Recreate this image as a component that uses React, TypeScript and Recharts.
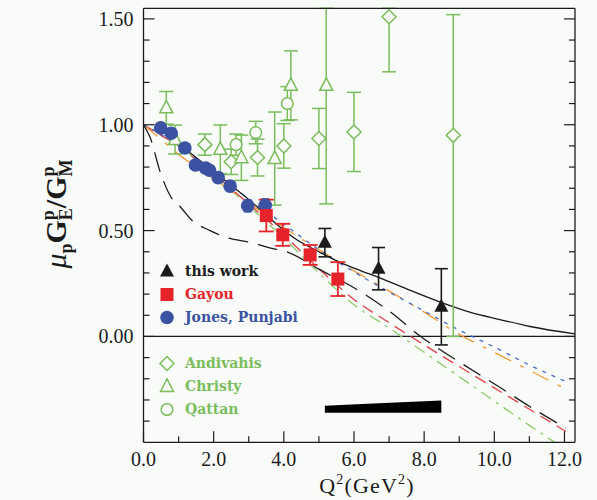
import { Area, ComposedChart, ErrorBar, Legend, Line, ReferenceLine, Scatter, XAxis, YAxis } from 'recharts';

const INK = '#1b1b1b';
const PAPER = '#f9fbf8';
const GREEN = '#79bd5d';
const RED = '#e6232b';
const BLUE = '#3b52a3';

// this work: black triangles, statistical errors
const thisWorkQ2 = [5.17, 6.7, 8.49];
const thisWorkRatio = [0.443, 0.32, 0.14];
const thisWorkErr = [0.067, 0.1, 0.18];

// systematic error band of this work
const sysBandQ2 = [5.17, 6.7, 8.49];
const sysBandLow = [-0.36, -0.36, -0.36];
const sysBandHigh = [-0.327, -0.315, -0.302];

const gayouQ2 = [3.5, 3.97, 4.75, 5.54];
const gayouRatio = [0.571, 0.48, 0.385, 0.271];
const gayouErr = [0.075, 0.052, 0.047, 0.08];

const jonesQ2 = [0.49, 0.79, 1.18, 1.48, 1.77, 1.88, 2.13, 2.47, 2.97, 3.47];
const jonesRatio = [0.985, 0.96, 0.89, 0.81, 0.795, 0.785, 0.75, 0.71, 0.617, 0.62];
const jonesErr = [0.012, 0.012, 0.015, 0.02, 0.02, 0.02, 0.022, 0.025, 0.028, 0.03];

// Rosenbluth results (open green symbols), errors as [low, high]
const andivahisQ2 = [1.75, 2.5, 3.25, 4.0, 5.0, 6.0, 7.0, 8.83];
const andivahisRatio = [0.906, 0.825, 0.845, 0.9, 0.935, 0.966, 1.51, 0.95];
const andivahisLow = [0.05, 0.06, 0.087, 0.105, 0.142, 0.187, 0.26, 0.95];
const andivahisHigh = [0.05, 0.06, 0.087, 0.105, 0.142, 0.187, 0.04, 0.57];

const christyQ2 = [0.65, 0.9, 2.19, 2.79, 3.74, 4.2, 5.21];
const christyRatio = [1.08, 0.93, 0.884, 0.844, 0.84, 1.186, 1.186];
const christyLow = [0.077, 0.068, 0.115, 0.107, 0.22, 0.163, 0.56];
const christyHigh = [0.077, 0.068, 0.115, 0.107, 0.22, 0.163, 0.364];

const qattanQ2 = [2.64, 3.2, 4.1];
const qattanRatio = [0.906, 0.963, 1.1];
const qattanErr = [0.05, 0.053, 0.08];

// model curves
const modelQ2 = [0, 0.5, 1, 1.5, 2, 3, 4, 5, 6, 7, 8, 9, 10, 11, 12.04];
const blueModel = [1.0, 0.955, 0.9, 0.84, 0.775, 0.65, 0.53, 0.41, 0.305, 0.21, 0.12, 0.03, -0.05, -0.135, -0.213];
const orangeModel = [1.0, 0.93, 0.86, 0.8, 0.745, 0.63, 0.515, 0.41, 0.31, 0.215, 0.115, 0.01, -0.075, -0.16, -0.249];
const redModel = [1.0, 0.95, 0.9, 0.835, 0.77, 0.625, 0.48, 0.32, 0.175, 0.065, -0.04, -0.142, -0.243, -0.344, -0.449];
const greenModel = [1.0, 0.95, 0.9, 0.835, 0.765, 0.615, 0.465, 0.3, 0.15, 0.04, -0.075, -0.19, -0.305, -0.42, -0.535];

const solidFitQ2 = [0.42, 1.5, 2.94, 4.37, 5.0, 5.6, 6.2, 6.72, 7.5, 8.5, 9.3, 10.16, 11.02, 12.3];
const solidFit = [0.985, 0.845, 0.655, 0.457, 0.4, 0.35, 0.31, 0.278, 0.225, 0.16, 0.115, 0.08, 0.047, 0.012];

const dashedFitQ2 = [0, 0.19, 0.47, 0.8, 1.04, 1.37, 1.9, 2.27, 3.13, 3.6, 4.08, 5.0, 6.17, 7.0, 7.9, 9.0, 10.2, 11.0, 12.04];
const dashedFit = [1.0, 0.94, 0.78, 0.654, 0.614, 0.55, 0.5, 0.473, 0.441, 0.418, 0.4, 0.318, 0.213, 0.12, 0.0, -0.12, -0.245, -0.33, -0.433];

const xTicks = [0, 1, 2, 3, 4, 5, 6, 7, 8, 9, 10, 11, 12];
const yTicks = [-0.4, -0.3, -0.2, -0.1, 0, 0.1, 0.2, 0.3, 0.4, 0.5, 0.6, 0.7, 0.8, 0.9, 1.0, 1.1, 1.2, 1.3, 1.4, 1.5];

const points = (q2: number[], ratio: number[], err: number[]) =>
  q2.map((x, i) => ({ x, y: ratio[i], e: err[i] }));
const asymPoints = (q2: number[], ratio: number[], low: number[], high: number[]) =>
  q2.map((x, i) => ({ x, y: ratio[i], e: [low[i], high[i]] }));
const curve = (q2: number[], ratio: number[]) => q2.map((x, i) => ({ x, y: ratio[i] }));

const thisWork = points(thisWorkQ2, thisWorkRatio, thisWorkErr);
const gayou = points(gayouQ2, gayouRatio, gayouErr);
const jones = points(jonesQ2, jonesRatio, jonesErr);
const andivahis = asymPoints(andivahisQ2, andivahisRatio, andivahisLow, andivahisHigh);
const christy = asymPoints(christyQ2, christyRatio, christyLow, christyHigh);
const qattan = points(qattanQ2, qattanRatio, qattanErr);
const sysBand = sysBandQ2.map((x, i) => ({ x, band: [sysBandLow[i], sysBandHigh[i]] }));

const SERIF = "'Liberation Serif', 'Times New Roman', serif";
const LEGEND_FONT = "'DejaVu Serif', serif";

type MarkKind = 'tri' | 'square' | 'circle' | 'diamond' | 'openTri' | 'openCircle';

const markPath = (kind: MarkKind, cx: number, cy: number, color: string) => {
  switch (kind) {
    case 'tri':
      return <polygon points={`${cx},${cy - 8} ${cx - 7},${cy + 5} ${cx + 7},${cy + 5}`} fill={INK} />;
    case 'square':
      return <rect x={cx - 6.5} y={cy - 6.5} width={13} height={13} fill={color} />;
    case 'circle':
      return <circle cx={cx} cy={cy} r={6.8} fill={color} />;
    case 'diamond':
      return (
        <polygon
          points={`${cx},${cy - 7} ${cx + 7},${cy} ${cx},${cy + 7} ${cx - 7},${cy}`}
          fill={PAPER}
          stroke={color}
          strokeWidth={1.5}
        />
      );
    case 'openTri':
      return (
        <polygon
          points={`${cx},${cy - 7.5} ${cx - 6.5},${cy + 5} ${cx + 6.5},${cy + 5}`}
          fill={PAPER}
          stroke={color}
          strokeWidth={1.5}
        />
      );
    default:
      return <circle cx={cx} cy={cy} r={5.8} fill={PAPER} stroke={color} strokeWidth={1.5} />;
  }
};

const shape = (kind: MarkKind, color: string) => (props: any) => markPath(kind, props.cx, props.cy, color);

type TickProps = { x?: number; y?: number; payload?: { value: number } };

const majorQ2 = (v: number) => Math.round(v) % 2 === 0;
const majorRatio = (v: number) => Math.round(v * 10) % 5 === 0;

const BottomTick = ({ x = 0, y = 0, payload }: TickProps) => {
  const v = payload?.value ?? 0;
  const major = majorQ2(v);
  return (
    <g>
      <line x1={x} x2={x} y1={y} y2={y - (major ? 11 : 6)} stroke={INK} strokeWidth={1.2} />
      {major && (
        <text x={x} y={y + 24} textAnchor="middle" fontFamily={SERIF} fontSize={20} fill={INK}>
          {v.toFixed(1)}
        </text>
      )}
    </g>
  );
};

const TopTick = ({ x = 0, y = 0, payload }: TickProps) => {
  const major = majorQ2(payload?.value ?? 0);
  return <line x1={x} x2={x} y1={y} y2={y + (major ? 11 : 6)} stroke={INK} strokeWidth={1.2} />;
};

const LeftTick = ({ x = 0, y = 0, payload }: TickProps) => {
  const v = payload?.value ?? 0;
  const major = majorRatio(v);
  return (
    <g>
      <line x1={x} x2={x + (major ? 11 : 6)} y1={y} y2={y} stroke={INK} strokeWidth={1.2} />
      {major && v >= 0 && (
        <text x={x - 10} y={y + 7} textAnchor="end" fontFamily={SERIF} fontSize={20} fill={INK}>
          {v.toFixed(2)}
        </text>
      )}
    </g>
  );
};

const RightTick = ({ x = 0, y = 0, payload }: TickProps) => {
  const major = majorRatio(payload?.value ?? 0);
  return <line x1={x} x2={x - (major ? 11 : 6)} y1={y} y2={y} stroke={INK} strokeWidth={1.2} />;
};

const YTitle = () => (
  <text transform="translate(66,214) rotate(-90)" textAnchor="middle" fontFamily={SERIF} fontSize={30} fill={INK}>
    <tspan fontStyle="italic">μ</tspan>
    <tspan fontSize={18} dy={6} fontWeight="bold">p</tspan>
    <tspan dy={-6} fontWeight="bold">G</tspan>
    <tspan fontSize={18} dy={-12} fontWeight="bold">p</tspan>
    <tspan fontSize={18} dx={-10} dy={18} fontWeight="bold">E</tspan>
    <tspan dy={-6} fontWeight="bold">/G</tspan>
    <tspan fontSize={18} dy={-12} fontWeight="bold">p</tspan>
    <tspan fontSize={18} dx={-10} dy={18} fontWeight="bold">M</tspan>
  </text>
);

const XTitle = () => (
  <text x={367} y={493} textAnchor="middle" fontFamily={SERIF} fontSize={22} letterSpacing={1.2} fill={INK}>
    Q<tspan fontSize={14} dy={-9}>2</tspan>
    <tspan dy={9}>(GeV</tspan>
    <tspan fontSize={14} dy={-9}>2</tspan>
    <tspan dy={9}>)</tspan>
  </text>
);

const legendRows: Array<{ label: string; kind: MarkKind; color: string; top: number }> = [
  { label: 'this work', kind: 'tri', color: INK, top: 270.7 },
  { label: 'Gayou', kind: 'square', color: RED, top: 294 },
  { label: 'Jones, Punjabi', kind: 'circle', color: BLUE, top: 317.3 },
  { label: 'Andivahis', kind: 'diamond', color: GREEN, top: 362.7 },
  { label: 'Christy', kind: 'openTri', color: GREEN, top: 385.7 },
  { label: 'Qattan', kind: 'openCircle', color: GREEN, top: 409.3 },
];

const LEGEND_LEFT = 150;
const LEGEND_TOP = 255;

const renderLegend = () => (
  <div style={{ position: 'relative', width: 170, height: 170 }}>
    {legendRows.map((row) => (
      <div key={row.label}>
        <svg
          width={18}
          height={18}
          style={{ position: 'absolute', left: 166.7 - 9 - LEGEND_LEFT, top: row.top - 9 - LEGEND_TOP }}
        >
          {markPath(row.kind, 9, 9.5, row.color)}
        </svg>
        <span
          style={{
            position: 'absolute',
            left: 185 - LEGEND_LEFT,
            top: row.top - 10 - LEGEND_TOP,
            lineHeight: '20px',
            whiteSpace: 'nowrap',
            fontFamily: LEGEND_FONT,
            fontWeight: 'bold',
            fontSize: 14,
            color: row.color,
          }}
        >
          {row.label}
        </span>
      </div>
    ))}
  </div>
);

const modelLine = (data: number[], color: string, dash: string, key: string) => (
  <Line
    key={key}
    data={curve(modelQ2, data)}
    dataKey="y"
    type="monotone"
    stroke={color}
    strokeWidth={1.3}
    strokeDasharray={dash}
    dot={false}
    activeDot={false}
    isAnimationActive={false}
  />
);

// axes are 1px thick so they still render; margins put the frame at x 143.5..575, y 8.3..442.3
const App = () => (
  <div style={{ position: 'absolute', left: 0, top: 0, width: 597, height: 500, background: PAPER }}>
    <ComposedChart width={597} height={500} margin={{ top: 7.3, right: 21, bottom: 56.7, left: 142.5 }}>
      <XAxis
        dataKey="x"
        type="number"
        domain={[0, 12.3]}
        allowDataOverflow
        ticks={xTicks}
        interval={0}
        height={1}
        tickSize={0}
        tickMargin={0}
        tickLine={false}
        tick={<BottomTick />}
        axisLine={{ stroke: INK, strokeWidth: 1.3 }}
        label={<XTitle />}
      />
      <XAxis
        xAxisId="top"
        orientation="top"
        type="number"
        domain={[0, 12.3]}
        allowDataOverflow
        ticks={xTicks}
        interval={0}
        height={1}
        tickSize={0}
        tickMargin={0}
        tickLine={false}
        tick={<TopTick />}
        axisLine={{ stroke: INK, strokeWidth: 1.3 }}
      />
      <YAxis
        dataKey="y"
        type="number"
        domain={[-0.5, 1.55]}
        allowDataOverflow
        ticks={yTicks}
        interval={0}
        width={1}
        tickSize={0}
        tickMargin={0}
        tickLine={false}
        tick={<LeftTick />}
        axisLine={{ stroke: INK, strokeWidth: 1.3 }}
        label={<YTitle />}
      />
      <YAxis
        yAxisId="right"
        orientation="right"
        type="number"
        domain={[-0.5, 1.55]}
        allowDataOverflow
        ticks={yTicks}
        interval={0}
        width={1}
        tickSize={0}
        tickMargin={0}
        tickLine={false}
        tick={<RightTick />}
        axisLine={{ stroke: INK, strokeWidth: 1.3 }}
      />
      <ReferenceLine y={0} stroke={INK} strokeWidth={1.3} />

      {modelLine(greenModel, '#8ccb6a', '12 6 3 6', 'green')}
      {modelLine(redModel, '#e0404a', '12 7', 'red')}
      {modelLine(orangeModel, '#f29a38', '18 10 4 10', 'orange')}
      {modelLine(blueModel, '#4767c8', '4 6', 'blue')}
      <Line
        data={curve(dashedFitQ2, dashedFit)}
        dataKey="y"
        type="monotone"
        stroke={INK}
        strokeWidth={1.3}
        strokeDasharray="20 10"
        dot={false}
        activeDot={false}
        isAnimationActive={false}
      />
      <Line
        data={curve(solidFitQ2, solidFit)}
        dataKey="y"
        type="monotone"
        stroke={INK}
        strokeWidth={1.3}
        dot={false}
        activeDot={false}
        isAnimationActive={false}
      />

      <Area
        data={sysBand}
        dataKey="band"
        type="linear"
        fill="#000"
        fillOpacity={1}
        stroke="none"
        isAnimationActive={false}
      />

      <Scatter data={andivahis} shape={shape('diamond', GREEN)} isAnimationActive={false}>
        <ErrorBar dataKey="e" direction="y" width={7} stroke={GREEN} strokeWidth={1.5} />
      </Scatter>
      <Scatter data={christy} shape={shape('openTri', GREEN)} isAnimationActive={false}>
        <ErrorBar dataKey="e" direction="y" width={7} stroke={GREEN} strokeWidth={1.5} />
      </Scatter>
      <Scatter data={qattan} shape={shape('openCircle', GREEN)} isAnimationActive={false}>
        <ErrorBar dataKey="e" direction="y" width={7} stroke={GREEN} strokeWidth={1.5} />
      </Scatter>
      <Scatter data={jones} shape={shape('circle', BLUE)} isAnimationActive={false}>
        <ErrorBar dataKey="e" direction="y" width={4} stroke={BLUE} strokeWidth={1.5} />
      </Scatter>
      <Scatter data={gayou} shape={shape('square', RED)} isAnimationActive={false}>
        <ErrorBar dataKey="e" direction="y" width={7.5} stroke={RED} strokeWidth={1.8} />
      </Scatter>
      <Scatter data={thisWork} shape={shape('tri', INK)} isAnimationActive={false}>
        <ErrorBar dataKey="e" direction="y" width={6.5} stroke={INK} strokeWidth={1.6} />
      </Scatter>

      <Legend
        layout="vertical"
        align="center"
        verticalAlign="middle"
        content={renderLegend}
        wrapperStyle={{ left: LEGEND_LEFT, top: LEGEND_TOP, width: 170, height: 170 }}
      />
    </ComposedChart>
  </div>
);

export default App;
